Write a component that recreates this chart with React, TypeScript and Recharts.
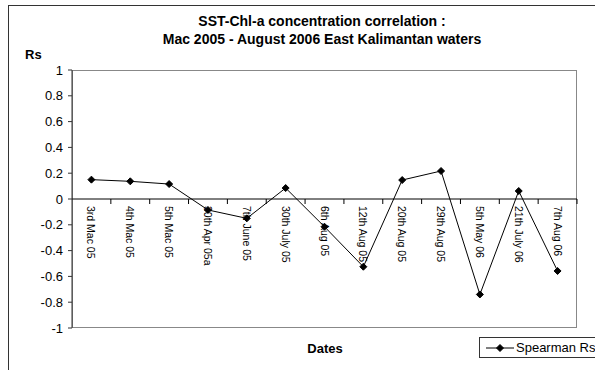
import { LineChart, Line, XAxis, YAxis, ReferenceLine } from "recharts";

const dates = [
  "3rd Mac 05",
  "4th Mac 05",
  "5th Mac 05",
  "30th Apr 05a",
  "7th June 05",
  "30th July 05",
  "6th Aug 05",
  "12th Aug 05",
  "20th Aug 05",
  "29th Aug 05",
  "5th May 06",
  "21th July 06",
  "7th Aug 06",
];

const rsValues = [0.15, 0.137, 0.116, -0.085, -0.15, 0.085, -0.215, -0.525, 0.147, 0.217, -0.74, 0.062, -0.558];

const yTicks = [-1, -0.8, -0.6, -0.4, -0.2, 0, 0.2, 0.4, 0.6, 0.8, 1];

const chartData = dates.map((d, i) => ({ date: d, rs: rsValues[i] }));

const FONT = "'Liberation Sans', Arial, sans-serif";
const TOP = 70;
const LEFT = 72;
const PLOT_W = 505;
const PLOT_H = 258;
const Y_MIN = -1;
const Y_MAX = 1;
const HALF_BAND = PLOT_W / dates.length / 2;

const Diamond = (props: any) => {
  const { cx, cy } = props;
  if (cx == null || cy == null) return null;
  const r = 3.5;
  return (
    <polygon
      points={`${cx},${cy - r} ${cx + r},${cy} ${cx},${cy + r} ${cx - r},${cy}`}
      fill="#000"
      stroke="#000"
    />
  );
};

// labels sit on the zero line, not on the bottom of the plot
const DateTick = (props: any) => {
  const { x, y, payload } = props;
  const zeroY = y - (PLOT_H * (0 - Y_MIN)) / (Y_MAX - Y_MIN);
  return (
    <g>
      <line x1={x + HALF_BAND} x2={x + HALF_BAND} y1={zeroY} y2={zeroY + 5} stroke="#000" strokeWidth={1} />
      <text
        x={x}
        y={zeroY + 7}
        transform={`rotate(90, ${x}, ${zeroY + 7})`}
        textAnchor="start"
        dominantBaseline="central"
        fontSize={10.5}
        fontFamily={FONT}
        fill="#000"
      >
        {payload.value}
      </text>
    </g>
  );
};

const App = () => {
  return (
    <div
      style={{
        position: "absolute",
        left: 0,
        top: 0,
        width: 595,
        height: 370,
        overflow: "hidden",
        background: "#fff",
        fontFamily: FONT,
      }}
    >
      <div
        style={{
          position: "absolute",
          left: 8,
          top: 5,
          width: 620,
          height: 400,
          borderLeft: "1px solid #333",
          borderTop: "1px solid #333",
        }}
      />
      <div
        style={{
          position: "absolute",
          left: LEFT,
          top: TOP,
          width: PLOT_W,
          height: PLOT_H,
          border: "1px solid #888",
          boxSizing: "border-box",
        }}
      />
      <div
        style={{
          position: "absolute",
          left: 0,
          width: 644,
          top: 12,
          textAlign: "center",
          fontWeight: "bold",
          fontSize: 14,
          lineHeight: "18px",
        }}
      >
        SST-Chl-a concentration correlation :
        <br />
        Mac 2005 - August 2006 East Kalimantan waters
      </div>
      <div style={{ position: "absolute", left: 25, top: 47, fontWeight: "bold", fontSize: 13 }}>Rs</div>
      <div
        style={{
          position: "absolute",
          left: 0,
          width: 650,
          top: 341,
          textAlign: "center",
          fontWeight: "bold",
          fontSize: 13,
        }}
      >
        Dates
      </div>
      <div
        style={{
          position: "absolute",
          left: 479,
          top: 337,
          width: 140,
          height: 21,
          border: "1px solid #333",
          boxSizing: "border-box",
        }}
      >
        <svg width={34} height={19} style={{ position: "absolute", left: 4, top: 0 }}>
          <line x1={2} x2={30} y1={10} y2={10} stroke="#000" />
          <Diamond cx={16} cy={10} />
        </svg>
        <span style={{ position: "absolute", left: 36, top: 2, fontSize: 13, whiteSpace: "nowrap" }}>
          Spearman Rs
        </span>
      </div>
      <LineChart
        width={595}
        height={370}
        data={chartData}
        margin={{ top: TOP, left: 8, right: 595 - LEFT - PLOT_W, bottom: 0 }}
        style={{ position: "absolute", left: 0, top: 0 }}
      >
        <XAxis
          dataKey="date"
          height={370 - TOP - PLOT_H}
          padding={{ left: HALF_BAND, right: HALF_BAND }}
          axisLine={false}
          tickLine={false}
          tickSize={0}
          tickMargin={0}
          interval={0}
          tick={<DateTick />}
        />
        <YAxis
          width={LEFT - 8}
          domain={[Y_MIN, Y_MAX]}
          ticks={yTicks}
          interval={0}
          axisLine={{ stroke: "#333" }}
          tickLine={{ stroke: "#333" }}
          tickSize={4}
          tickMargin={5}
          tickFormatter={(v: number) => String(Math.round(v * 10) / 10)}
          tick={{ fontSize: 13, fill: "#000", fontFamily: FONT }}
        />
        <ReferenceLine y={0} stroke="#000" strokeWidth={1} />
        <Line
          dataKey="rs"
          stroke="#000"
          strokeWidth={1}
          dot={<Diamond />}
          activeDot={false}
          isAnimationActive={false}
        />
      </LineChart>
    </div>
  );
};

export default App;
